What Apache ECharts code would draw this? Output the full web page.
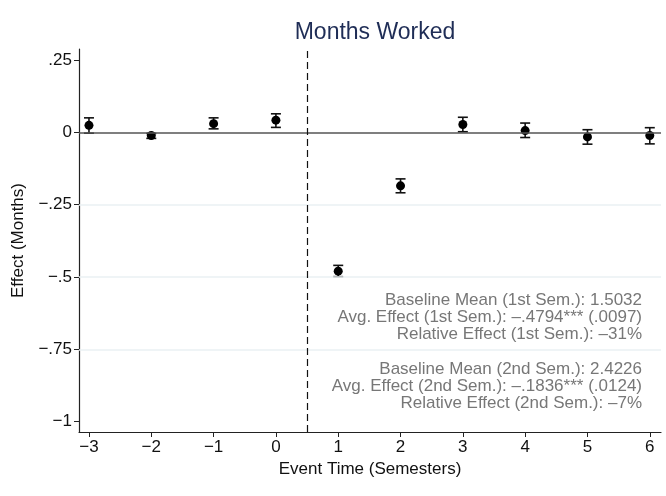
<!DOCTYPE html>
<html>
<head>
<meta charset="utf-8">
<script src="https://cdn.jsdelivr.net/npm/echarts@6/dist/echarts.min.js"></script>
<style>
  html, body { margin: 0; padding: 0; background: #fff; }
  #chart { width: 666px; height: 496px; }
</style>
</head>
<body>
<div id="chart"></div>
<script>
// event-study estimates
const eventTime = [-3, -2, -1, 0, 1, 2, 3, 4, 5, 6];
const estimate  = [0.024, -0.011, 0.030, 0.042, -0.480, -0.185, 0.027, 0.006, -0.016, -0.011];
const ciLow     = [-0.003, -0.021, 0.012, 0.017, -0.499, -0.209, 0.002, -0.018, -0.041, -0.040];
const ciHigh    = [0.050, -0.004, 0.050, 0.064, -0.460, -0.161, 0.052, 0.032, 0.009, 0.016];

const xTicks = [-3, -2, -1, 0, 1, 2, 3, 4, 5, 6];
const yTicks = [0.25, 0, -0.25, -0.5, -0.75, -1];
const yGrid = [-0.25, -0.5, -0.75];
const treatLine = 0.5;

const notes1 = [
  'Baseline Mean (1st Sem.): 1.5032',
  'Avg. Effect (1st Sem.): \u2013.4794*** (.0097)',
  'Relative Effect (1st Sem.): \u201331%'
];
const notes2 = [
  'Baseline Mean (2nd Sem.): 2.4226',
  'Avg. Effect (2nd Sem.): \u2013.1836*** (.0124)',
  'Relative Effect (2nd Sem.): \u20137%'
];

const FONT = '"Liberation Sans", Arial, sans-serif';

function fmtY(v) {
  if (v === 0) return '0';
  let s = String(Math.abs(v)).replace(/^0\./, '.');
  return (v < 0 ? '\u2212' : '') + s;
}
function fmtX(v) {
  return (v < 0 ? '\u2212' : '') + Math.abs(v);
}

const chart = echarts.init(document.getElementById('chart'));

chart.setOption({
  animation: false,
  title: {
    text: 'Months Worked',
    left: 370, top: 16, textAlign: 'center',
    textStyle: { fontFamily: FONT, fontSize: 23, fontWeight: 'normal', color: '#1f2d56' }
  },
  grid: { left: 79, right: 5, top: 49, bottom: 64 },
  xAxis: {
    type: 'value', min: -3.16, max: 6.18,
    name: 'Event Time (Semesters)', nameLocation: 'middle', nameGap: 28,
    nameTextStyle: { fontFamily: FONT, fontSize: 17, color: '#111' },
    axisLine: { onZero: false, lineStyle: { color: '#222', width: 1.2 } },
    axisTick: { show: true, length: 5, customValues: xTicks, lineStyle: { color: '#222' } },
    axisLabel: { customValues: xTicks, formatter: fmtX, fontFamily: FONT, fontSize: 17, color: '#111', margin: 7 },
    splitLine: { show: false }
  },
  yAxis: {
    type: 'value', min: -1.036, max: 0.288,
    name: 'Effect (Months)', nameLocation: 'middle', nameGap: 52, nameRotate: 90,
    nameTextStyle: { fontFamily: FONT, fontSize: 17, color: '#111' },
    axisLine: { show: true, onZero: false, lineStyle: { color: '#222', width: 1.2 } },
    axisTick: { show: true, length: 5, customValues: yTicks, lineStyle: { color: '#222' } },
    axisLabel: { customValues: yTicks, formatter: fmtY, fontFamily: FONT, fontSize: 17, color: '#111', margin: 7 },
    splitLine: { show: false }
  },
  graphic: [
    {
      type: 'text', x: 642, y: 292,
      style: { text: notes1.join('\n'), fontFamily: FONT, fontSize: 17, lineHeight: 17, fill: '#777', align: 'right', verticalAlign: 'top' }
    },
    {
      type: 'text', x: 642, y: 361,
      style: { text: notes2.join('\n'), fontFamily: FONT, fontSize: 17, lineHeight: 17, fill: '#777', align: 'right', verticalAlign: 'top' }
    }
  ],
  series: [
    {
      type: 'line', data: [], silent: true,
      markLine: {
        symbol: 'none', silent: true, label: { show: false },
        data: yGrid.map(v => ({ yAxis: v, lineStyle: { color: '#eaf1f3', width: 1.5, type: 'solid' } }))
          .concat([
            { yAxis: 0, lineStyle: { color: '#555', width: 1.5, type: 'solid' } },
            { xAxis: treatLine, lineStyle: { color: '#111', width: 1.2, type: [7, 4] } }
          ])
      }
    },
    {
      type: 'custom',
      data: eventTime.map((t, i) => [t, ciLow[i], ciHigh[i]]),
      renderItem: function (params, api) {
        const lo = api.coord([api.value(0), api.value(1)]);
        const hi = api.coord([api.value(0), api.value(2)]);
        const w = 5;
        const style = { stroke: '#111', lineWidth: 1.6 };
        return {
          type: 'group',
          children: [
            { type: 'line', shape: { x1: lo[0], y1: lo[1], x2: hi[0], y2: hi[1] }, style },
            { type: 'line', shape: { x1: lo[0] - w, y1: lo[1], x2: lo[0] + w, y2: lo[1] }, style },
            { type: 'line', shape: { x1: hi[0] - w, y1: hi[1], x2: hi[0] + w, y2: hi[1] }, style }
          ]
        };
      },
      z: 3
    },
    {
      type: 'scatter',
      data: eventTime.map((t, i) => [t, estimate[i]]),
      symbol: 'circle', symbolSize: 9,
      itemStyle: { color: '#000', opacity: 1 },
      z: 4
    }
  ]
});
</script>
</body>
</html>
